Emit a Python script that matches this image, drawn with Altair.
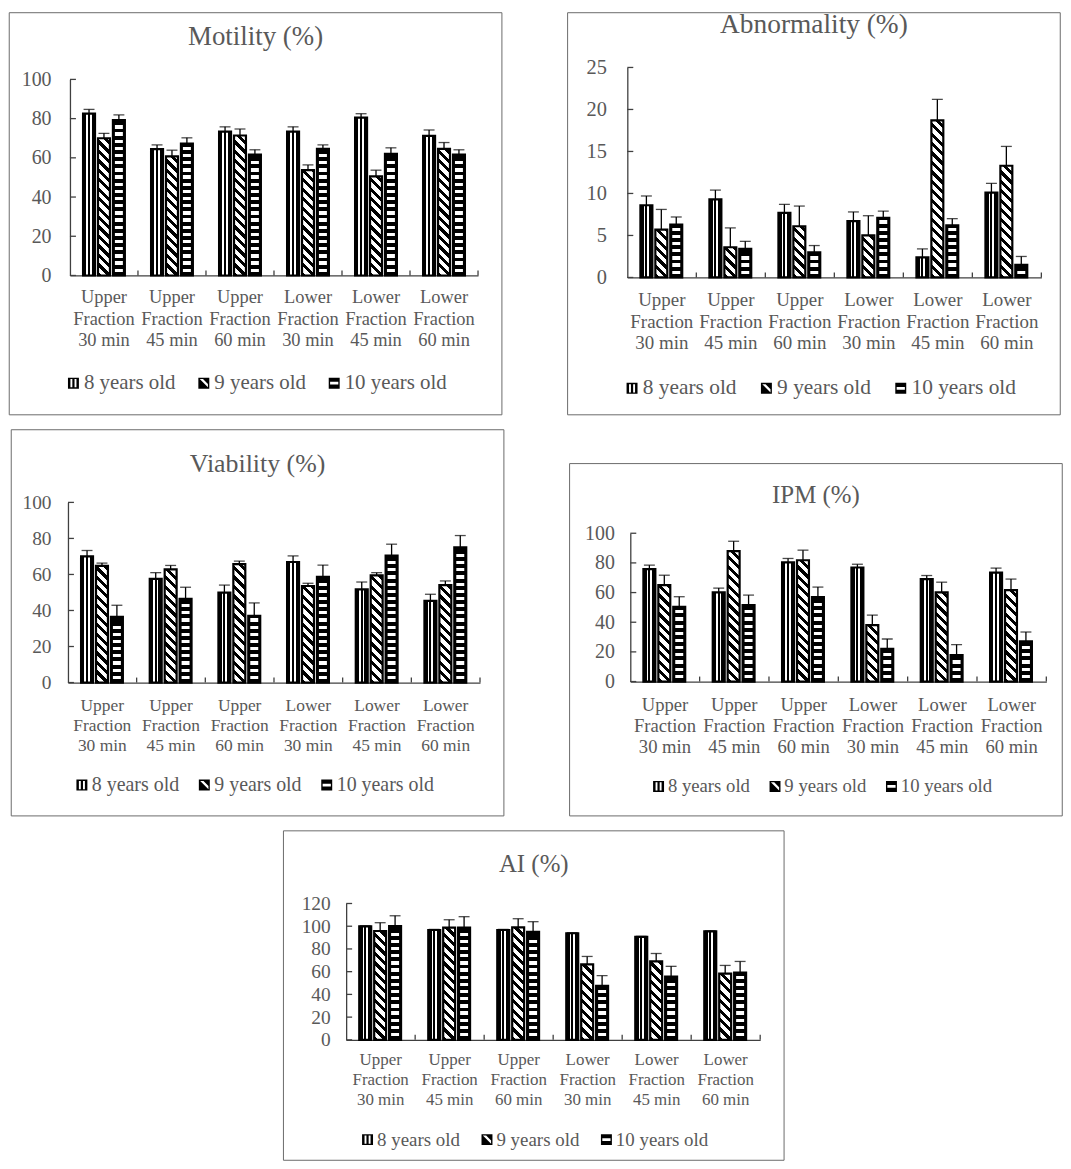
import altair as alt

# ---------------- data ----------------
categories = ["Upper Fraction 30 min", "Upper Fraction 45 min", "Upper Fraction 60 min",
              "Lower Fraction 30 min", "Lower Fraction 45 min", "Lower Fraction 60 min"]
series = ["8 years old", "9 years old", "10 years old"]

motility_mean = [[82.5, 64.4, 73.4, 73.4, 80.5, 71.2],
                 [70.0, 60.7, 71.4, 53.7, 50.5, 64.6],
                 [79.3, 67.3, 61.7, 64.6, 62.0, 61.7]]
motility_sd = [[2.2, 2.2, 2.4, 2.4, 2.0, 3.0],
               [2.5, 3.2, 3.3, 2.7, 3.2, 3.2],
               [2.6, 2.9, 2.4, 2.0, 3.1, 2.4]]

abnormality_mean = [[8.6, 9.3, 7.7, 6.7, 2.4, 10.1],
                    [5.7, 3.6, 6.1, 5.0, 18.7, 13.3],
                    [6.3, 3.4, 3.0, 7.1, 6.2, 1.5]]
abnormality_sd = [[1.1, 1.1, 1.0, 1.1, 1.0, 1.1],
                  [2.4, 2.3, 2.4, 2.35, 2.5, 2.3],
                  [0.9, 0.9, 0.8, 0.8, 0.8, 1.0]]

viability_mean = [[70.0, 57.5, 49.9, 66.9, 51.7, 45.3],
                  [64.8, 62.8, 65.7, 53.6, 59.5, 54.1],
                  [36.5, 46.4, 37.0, 58.7, 70.5, 75.1]]
viability_sd = [[3.3, 3.5, 4.2, 3.4, 4.1, 3.7],
                [1.5, 2.2, 1.7, 1.5, 1.5, 2.3],
                [6.4, 6.5, 7.2, 6.5, 6.3, 6.5]]

ipm_mean = [[75.8, 60.1, 80.3, 76.9, 69.1, 73.5],
            [65.0, 87.9, 81.8, 38.1, 60.1, 61.7],
            [50.4, 51.6, 56.9, 22.0, 17.9, 27.1]]
ipm_sd = [[2.7, 2.9, 2.7, 2.2, 2.4, 3.0],
          [6.7, 6.7, 6.8, 6.7, 6.9, 7.4],
          [6.8, 6.7, 6.8, 6.7, 7.0, 6.3]]

ai_mean = [[99.9, 96.7, 96.7, 93.8, 90.6, 95.5],
           [95.8, 98.7, 99.0, 66.4, 69.0, 58.3],
           [100.2, 98.7, 95.0, 47.5, 55.6, 59.1]]
ai_sd = [[0.5, 0.5, 0.5, 0.5, 0.5, 0.5],
         [7.3, 7.0, 7.6, 7.0, 7.0, 7.2],
         [9.0, 9.7, 9.0, 9.0, 9.1, 9.9]]

ticks_100 = [0, 20, 40, 60, 80, 100]
ticks_25 = [0, 5, 10, 15, 20, 25]
ticks_120 = [0, 20, 40, 60, 80, 100, 120]

# ---------------- styling ----------------
FONT = "Liberation Serif"
TEXT = "#595959"
AXIS = "#404040"
BOX = "#6b6b6b"
STEP = 15.0
INNER = 0.2
BW = STEP * (1 - INNER)

# legend swatches (custom symbol paths with holes)
SYM = [
    "M-1,-1H1V1H-1Z M-0.55,-0.75V0.75H-0.2V-0.75Z M0.2,-0.75V0.75H0.55V-0.75Z",
    "M-1,-1H1V1H-1Z M-0.75,-0.75L0.75,0.75L0.75,0.15L-0.15,-0.75Z",
    "M-1,-1H1V1H-1Z M-0.75,-0.25V0.25H0.75V-0.25Z",
]


def _stops(segs, total):
    out = []
    for a, b, c in segs:
        out.append({"offset": round(a / total, 5), "color": c})
        out.append({"offset": round(b / total, 5), "color": c})
    return out


def grad_vertical(w, h):
    segs = [(0, 0.28, "black"), (0.28, 0.41, "white"), (0.41, 0.59, "black"),
            (0.59, 0.72, "white"), (0.72, 1.0, "black")]
    return {"gradient": "linear", "x1": 0, "y1": 0, "x2": 1, "y2": 0,
            "stops": _stops(segs, 1.0)}


def grad_horizontal(w, h):
    P, a0, ww = 7.2, 3.6, 3.3
    segs = []
    pos = 0.0
    k = 0
    while True:
        s = k * P + a0
        e = s + ww
        if e > h - 1.6:
            break
        segs.append((pos, s, "black"))
        segs.append((s, e, "white"))
        pos = e
        k += 1
    segs.append((pos, max(h, pos), "black"))
    return {"gradient": "linear", "x1": 0, "y1": 1, "x2": 0, "y2": 0,
            "stops": _stops(segs, max(h, 0.01))}


def grad_diagonal(w, h):
    P = 9.5
    blk = 0.45 * P
    L = w + h
    c = L * w / (w * w + h * h)
    segs = []
    s = 0.0
    while s < L:
        e = min(s + blk, L)
        segs.append((s, e, "black"))
        s2 = min(s + P, L)
        if s2 > e:
            segs.append((e, s2, "white"))
        s += P
    return {"gradient": "linear", "x1": 0, "y1": 1, "x2": c, "y2": 1 - c * h / w,
            "stops": _stops(segs, L)}


def base_fill(si, w, h):
    if si == 0:
        return grad_vertical(w, h)
    if si == 1:
        return grad_diagonal(w, h)
    return "black"


def panel(title, means, sds, ymax, yticks, g):
    W, Hv, yo, L, R, T, B = g["W"], g["Hv"], g["yo"], g["L"], g["R"], g["T"], g["B"]
    H = Hv - yo
    outer = (W / 6.0 / STEP - 3 + INNER) / 2.0

    rows = []
    for si, s in enumerate(series):
        for ci, c in enumerate(categories):
            v = means[si][ci]
            e = sds[si][ci]
            h = v / ymax * H
            rows.append({"cat": c, "series": s, "value": v, "top": v + e,
                         "grad": base_fill(si, BW, h), "hgrad": grad_horizontal(BW, h)})
    data = alt.Data(values=rows)

    xaxis = alt.Axis(title=None, labelAngle=0, ticks=False, tickSize=0,
                     labelExpr="[split(datum.label,' ')[0], split(datum.label,' ')[1], "
                               "split(datum.label,' ')[2] + ' ' + split(datum.label,' ')[3]]",
                     labelFont=FONT, labelFontSize=g["xfs"], labelColor=TEXT,
                     labelPadding=g["xpad"], labelLineHeight=g["xlh"],
                     labelOverlap=False, labelLimit=0,
                     domainColor=AXIS, domainWidth=1.3)
    yaxis = alt.Axis(title=None, values=yticks, ticks=False, tickSize=0, grid=False,
                     labelFont=FONT, labelFontSize=g["yfs"], labelColor=TEXT,
                     labelPadding=g["ypad"], domainColor=AXIS, domainWidth=1.3)
    xscale = alt.Scale(domain=categories, paddingInner=0, paddingOuter=0)
    yscale = alt.Scale(domain=[0, ymax], range=[Hv, yo], nice=False, zero=True)
    xoscale = alt.Scale(domain=series, paddingInner=INNER, paddingOuter=outer)

    def X(**kw):
        return alt.X("cat:N", scale=xscale, axis=xaxis, **kw)

    def XO():
        return alt.XOffset("series:N", scale=xoscale)

    def Y(field):
        return alt.Y(f"{field}:Q", scale=yscale, axis=yaxis, stack=None)

    one = alt.Data(values=[{"box": 1}])
    border = alt.Chart(one).mark_rect(fill="white", fillOpacity=0, stroke=BOX,
                                      strokeWidth=1).encode(
        x=alt.value(-L), x2=alt.value(W + R), y=alt.value(-T), y2=alt.value(Hv + B))

    legend_layer = alt.Chart(data).mark_point(filled=True, color="black", opacity=0).encode(
        x=X(), xOffset=XO(), y=Y("value"),
        shape=alt.Shape("series:N", scale=alt.Scale(domain=series, range=SYM),
                        legend=alt.Legend(title=None, orient="none",
                                          legendX=g["lx"] - 5,
                                          legendY=g["ly"] + yo - g["lfs"] / 2.0,
                                          direction="horizontal", padding=0,
                                          labelFont=FONT, labelFontSize=g["lfs"],
                                          labelColor=TEXT, symbolSize=121,
                                          symbolStrokeWidth=0, symbolFillColor="black",
                                          labelOffset=0, columnPadding=g["lcp"] - 5)))
    bars = alt.Chart(data).mark_bar(stroke="black", strokeWidth=2.2).encode(
        x=X(), xOffset=XO(), y=Y("value"),
        fill=alt.Fill("grad:N", scale=None))
    ladder = alt.Chart(data).transform_filter(
        alt.datum.series == series[2]).mark_bar(width=8).encode(
        x=X(), xOffset=XO(), y=Y("value"),
        fill=alt.Fill("hgrad:N", scale=None))
    err = alt.Chart(data).mark_rule(color="black", strokeWidth=1.3).encode(
        x=X(), xOffset=XO(), y=Y("top"), y2=alt.Y2("value"))
    caps = alt.Chart(data).mark_tick(color="black", thickness=1.3, size=11).encode(
        x=X(), xOffset=XO(), y=Y("top"))
    ytk = alt.Chart(alt.Data(values=[{"t": t} for t in yticks])).mark_rule(
        color=AXIS, strokeWidth=1.3).encode(
        y=alt.Y("t:Q", scale=yscale, axis=yaxis), x=alt.value(0), x2=alt.value(6))
    xtk = alt.Chart(alt.Data(values=[{"cat": c} for c in categories])).mark_rule(
        color=AXIS, strokeWidth=1.3).encode(
        x=X(bandPosition=1), y=alt.value(Hv - 5), y2=alt.value(Hv))

    toff = g["td"] - yo - T - 0.5 - g["tfs"]
    return alt.layer(border, legend_layer, bars, ladder, err, caps, ytk, xtk).properties(
        width=W, height=Hv,
        title=alt.TitleParams(title, font=FONT, fontSize=g["tfs"], fontWeight="normal",
                              color=TEXT, anchor="middle", frame="bounds",
                              baseline="alphabetic", offset=toff))


# geometry: W plot width, Hv view height, yo offset of the axis top inside the view,
# L/R/T/B distance from the view to the panel frame
g1 = dict(W=410, Hv=209, yo=12, L=61, R=24, T=55, B=140, tfs=27, td=35,
          xfs=18.5, xlh=21.5, xpad=12.4, yfs=20, ypad=19, lx=-2, ly=305, lfs=21, lcp=22)
g2 = dict(W=416, Hv=211, yo=0, L=60, R=19, T=55, B=138, tfs=27.5, td=35,
          xfs=19, xlh=21.6, xpad=13.3, yfs=20.5, ypad=21, lx=-1, ly=322, lfs=21.5, lcp=24)
g3 = dict(W=414, Hv=181, yo=0, L=57, R=24, T=73, B=134, tfs=26, td=31,
          xfs=17.5, xlh=20, xpad=14.2, yfs=19.5, ypad=17, lx=9, ly=284, lfs=20, lcp=20)
g4 = dict(W=418, Hv=180, yo=31, L=61, R=16, T=39, B=135, tfs=25, td=30,
          xfs=18.7, xlh=21, xpad=14.2, yfs=20, ypad=16, lx=24, ly=254, lfs=18.8, lcp=20)
g5 = dict(W=416, Hv=137, yo=0, L=63, R=24, T=73, B=121, tfs=25, td=32,
          xfs=17, xlh=20, xpad=11.6, yfs=19.5, ypad=16, lx=17, ly=237, lfs=19, lcp=22)

p1 = panel("Motility (%)", motility_mean, motility_sd, 100, ticks_100, g1)
p2 = panel("Abnormality (%)", abnormality_mean, abnormality_sd, 25, ticks_25, g2)
p3 = panel("Viability (%)", viability_mean, viability_sd, 100, ticks_100, g3)
p4 = panel("IPM (%)", ipm_mean, ipm_sd, 100, ticks_100, g4)
p5 = panel("AI (%)", ai_mean, ai_sd, 120, ticks_120, g5)

row1 = alt.hconcat(p1, p2, spacing=64).resolve_scale(shape="independent").resolve_legend(shape="independent")
row2 = alt.hconcat(p3, p4, spacing=64).resolve_scale(shape="independent").resolve_legend(shape="independent")

chart = alt.vconcat(
    row1, row2, p5,
    spacing=13, center=True,
).resolve_scale(shape="independent").resolve_legend(shape="independent").properties(
    padding=0).configure_view(stroke=None)

chart.save("out.html", embed_options={"renderer": "svg", "actions": False})
